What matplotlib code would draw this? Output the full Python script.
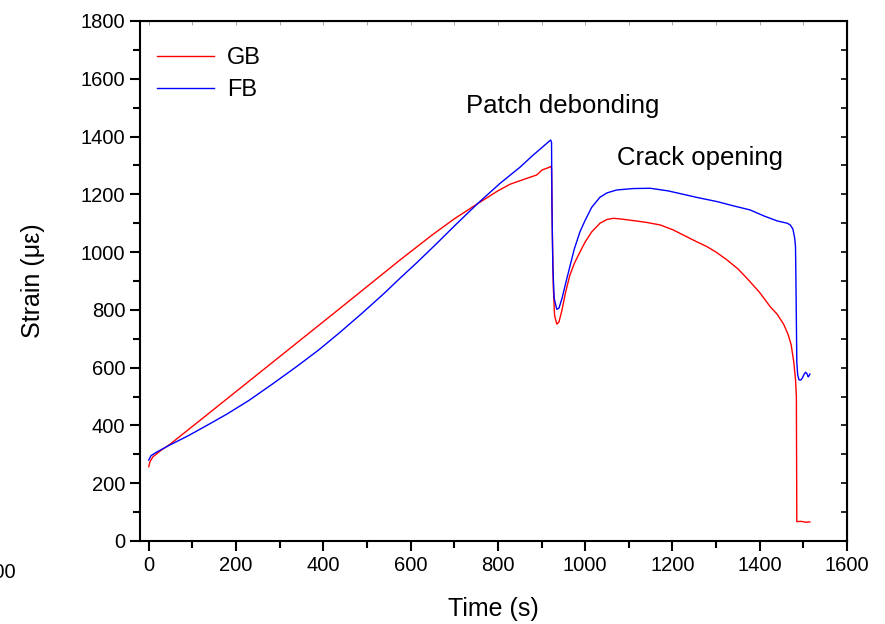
import matplotlib
matplotlib.use("Agg")
import matplotlib.pyplot as plt
from matplotlib.ticker import MultipleLocator

plt.rcParams['font.family'] = ['Liberation Sans', 'DejaVu Sans']

# GB (red) series
gb_time = [0, 3, 10, 30, 48, 132, 285, 438, 576, 650, 700, 755, 800, 828, 860,
           889, 901, 915, 921, 923, 925, 927, 930, 935, 940, 947, 955, 965, 975,
           988, 1000, 1015, 1034, 1050, 1065, 1080, 1111, 1140, 1172, 1200, 1225,
           1250, 1279, 1300, 1325, 1350, 1371, 1400, 1424, 1440, 1455, 1465,
           1472, 1478, 1482, 1484, 1485, 1495, 1505, 1515]
gb_strain = [257, 275, 292, 316, 334, 435, 620, 805, 973, 1060, 1115, 1169, 1212,
             1235, 1252, 1267, 1284, 1292, 1296, 1290, 1050, 880, 780, 751, 758,
             800, 860, 920, 960, 1000, 1035, 1070, 1100, 1113, 1117, 1115, 1109,
             1103, 1094, 1078, 1059, 1040, 1019, 1000, 973, 942, 909, 860, 811,
             785, 750, 715, 680, 620, 560, 500, 67, 68, 65, 66]

# FB (blue) series
fb_time = [0, 5, 15, 48, 90, 132, 180, 230, 285, 340, 390, 438, 490, 540, 576,
           614, 660, 700, 755, 805, 850, 881, 921, 923, 924, 926, 929, 935, 940,
           947, 955, 965, 975, 988, 1000, 1015, 1034, 1050, 1072, 1110, 1149,
           1190, 1225, 1260, 1302, 1340, 1378, 1410, 1440, 1463, 1470, 1476,
           1480, 1482, 1483, 1484, 1485, 1487, 1490, 1494, 1498, 1502, 1505,
           1508, 1511, 1513, 1515]
fb_strain = [280, 295, 305, 332, 364, 399, 440, 487, 545, 605, 662, 722, 790,
             858, 910, 963, 1030, 1090, 1170, 1238, 1293, 1336, 1388, 1380,
             1150, 950, 840, 802, 806, 840, 890, 950, 1010, 1070, 1110, 1155,
             1190, 1205, 1215, 1220, 1221, 1212, 1200, 1188, 1175, 1160, 1146,
             1125, 1108, 1100, 1094, 1080, 1050, 1019, 900, 760, 620, 575, 558,
             557, 565, 578, 584, 580, 568, 572, 578]

fig = plt.figure(figsize=(8.85, 6.24), dpi=100)
ax = fig.add_axes([140/885, 1-541/624, (847-140)/885, (541-21)/624])

ax.plot(gb_time, gb_strain, color='#ff0000', lw=1.0, label='GB')
ax.plot(fb_time, fb_strain, color='#0000ff', lw=1.0, label='FB')

ax.set_xlim(-20, 1600)
ax.set_ylim(0, 1800)
ax.xaxis.set_major_locator(MultipleLocator(200))
ax.xaxis.set_minor_locator(MultipleLocator(100))
ax.yaxis.set_major_locator(MultipleLocator(200))
ax.yaxis.set_minor_locator(MultipleLocator(100))

ax.tick_params(which='both', direction='out', width=1.5, labelsize=14.5,
               top=False, right=False)
ax.tick_params(which='major', length=7)
ax.tick_params(which='minor', length=5)
for s in ax.spines.values():
    s.set_linewidth(1.5)

# inward ticks on right and top
axr = ax.secondary_yaxis('right')
axr.yaxis.set_major_locator(MultipleLocator(100))
axr.tick_params(direction='in', length=4, width=1.2, labelright=False)
axt = ax.secondary_xaxis('top')
axt.xaxis.set_major_locator(MultipleLocator(100))
axt.tick_params(direction='in', length=3, width=0.6, labeltop=False, color='#999999')

ax.set_xlabel('Time (s)', fontsize=18, labelpad=16)
ax.set_ylabel('Strain (με)', fontsize=18, labelpad=26)

ax.text(727, 1506, 'Patch debonding', fontsize=18.5, ha='left', va='center')
ax.text(1073, 1326, 'Crack opening', fontsize=18.5, ha='left', va='center')

leg = ax.legend(loc='upper left', bbox_to_anchor=(-0.006, 0.99), frameon=False,
                fontsize=17, handlelength=2.4, handletextpad=0.55,
                labelspacing=0.4, borderaxespad=0.5)

fig.text(16/885, 1-572/624, '1600', fontsize=14.5, ha='right', va='center')

fig.savefig('out.png', dpi=100)
